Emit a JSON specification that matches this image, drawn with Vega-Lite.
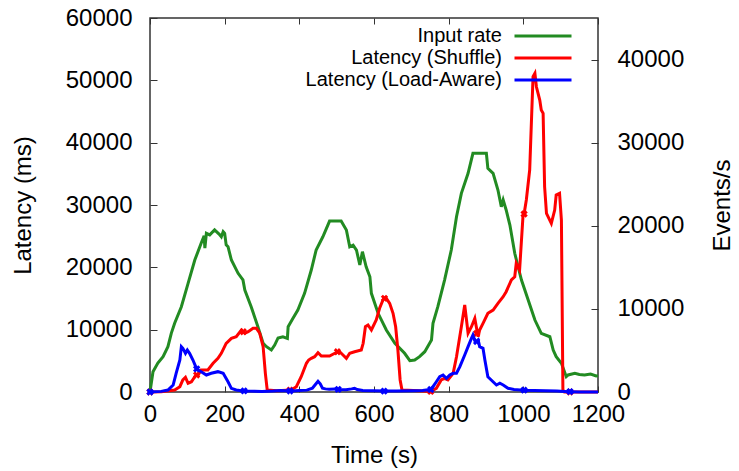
{
  "$schema": "https://vega.github.io/schema/vega-lite/v6.json",
  "width": 448,
  "height": 374,
  "autosize": {"type": "none"},
  "padding": {"left": 150, "top": 18, "right": 141, "bottom": 79},
  "background": "white",
  "config": {
    "font": "Liberation Sans",
    "view": {"stroke": "#333", "strokeWidth": 1.5},
    "axis": {
      "grid": false, "domain": false, "tickColor": "#333", "tickWidth": 1, "tickSize": -7,
      "labelFontSize": 24, "labelColor": "#000", "labelFont": "Liberation Sans",
      "titleFontSize": 24, "titleFontWeight": "normal", "titleColor": "#000", "titleFont": "Liberation Sans",
      "labelFlush": false, "labelOverlap": false, "format": "d"
    }
  },
  "datasets": {
    "rate": [
      {"s":"Input rate","t":0,"v":0},{"s":"Input rate","t":8,"v":2440},{"s":"Input rate","t":21,"v":3490},{"s":"Input rate","t":35,"v":4250},
      {"s":"Input rate","t":48,"v":5450},{"s":"Input rate","t":57,"v":7060},{"s":"Input rate","t":66,"v":8270},{"s":"Input rate","t":84,"v":10260},
      {"s":"Input rate","t":102,"v":13080},{"s":"Input rate","t":120,"v":15880},{"s":"Input rate","t":137,"v":17890},{"s":"Input rate","t":145,"v":18800},
      {"s":"Input rate","t":147,"v":17300},{"s":"Input rate","t":151,"v":19090},{"s":"Input rate","t":160,"v":18900},{"s":"Input rate","t":173,"v":19500},
      {"s":"Input rate","t":185,"v":19000},{"s":"Input rate","t":191,"v":18680},{"s":"Input rate","t":196,"v":19300},{"s":"Input rate","t":200,"v":19090},
      {"s":"Input rate","t":204,"v":17700},{"s":"Input rate","t":209,"v":17480},{"s":"Input rate","t":218,"v":15880},{"s":"Input rate","t":236,"v":14280},
      {"s":"Input rate","t":249,"v":13480},{"s":"Input rate","t":254,"v":12270},{"s":"Input rate","t":271,"v":10260},{"s":"Input rate","t":289,"v":7860},
      {"s":"Input rate","t":303,"v":5860},{"s":"Input rate","t":312,"v":5450},{"s":"Input rate","t":325,"v":5050},{"s":"Input rate","t":334,"v":5650},
      {"s":"Input rate","t":343,"v":6500},{"s":"Input rate","t":356,"v":6650},{"s":"Input rate","t":368,"v":6460},{"s":"Input rate","t":370,"v":7860},
      {"s":"Input rate","t":383,"v":8870},{"s":"Input rate","t":396,"v":9870},{"s":"Input rate","t":414,"v":11870},{"s":"Input rate","t":432,"v":14680},
      {"s":"Input rate","t":445,"v":17080},{"s":"Input rate","t":463,"v":18680},{"s":"Input rate","t":481,"v":20570},{"s":"Input rate","t":512,"v":20570},
      {"s":"Input rate","t":526,"v":19490},{"s":"Input rate","t":535,"v":17480},{"s":"Input rate","t":544,"v":17680},{"s":"Input rate","t":553,"v":17080},
      {"s":"Input rate","t":562,"v":15280},{"s":"Input rate","t":569,"v":16880},{"s":"Input rate","t":579,"v":15070},{"s":"Input rate","t":589,"v":13870},
      {"s":"Input rate","t":593,"v":11870},{"s":"Input rate","t":611,"v":9470},{"s":"Input rate","t":633,"v":7460},{"s":"Input rate","t":656,"v":5860},
      {"s":"Input rate","t":682,"v":4660},{"s":"Input rate","t":696,"v":3770},{"s":"Input rate","t":709,"v":3850},{"s":"Input rate","t":722,"v":4250},
      {"s":"Input rate","t":736,"v":4850},{"s":"Input rate","t":749,"v":5860},{"s":"Input rate","t":754,"v":6260},{"s":"Input rate","t":758,"v":8270},
      {"s":"Input rate","t":771,"v":10260},{"s":"Input rate","t":789,"v":13470},{"s":"Input rate","t":807,"v":17080},{"s":"Input rate","t":821,"v":21090},
      {"s":"Input rate","t":834,"v":23900},{"s":"Input rate","t":852,"v":26310},{"s":"Input rate","t":865,"v":28720},{"s":"Input rate","t":901,"v":28720},
      {"s":"Input rate","t":905,"v":26910},{"s":"Input rate","t":919,"v":26310},{"s":"Input rate","t":932,"v":24300},{"s":"Input rate","t":941,"v":22290},
      {"s":"Input rate","t":946,"v":23100},{"s":"Input rate","t":954,"v":21900},{"s":"Input rate","t":964,"v":20090},{"s":"Input rate","t":977,"v":16690},
      {"s":"Input rate","t":986,"v":15070},{"s":"Input rate","t":995,"v":13470},{"s":"Input rate","t":1013,"v":11070},{"s":"Input rate","t":1031,"v":8660},
      {"s":"Input rate","t":1048,"v":7060},{"s":"Input rate","t":1071,"v":6650},{"s":"Input rate","t":1080,"v":5050},{"s":"Input rate","t":1088,"v":4250},
      {"s":"Input rate","t":1102,"v":3450},{"s":"Input rate","t":1115,"v":1840},{"s":"Input rate","t":1120,"v":2050},{"s":"Input rate","t":1138,"v":2250},
      {"s":"Input rate","t":1150,"v":2100},{"s":"Input rate","t":1164,"v":2050},{"s":"Input rate","t":1180,"v":2150},{"s":"Input rate","t":1195,"v":1930},
      {"s":"Input rate","t":1200,"v":1950}
    ],
    "shuffle": [
      {"s":"Latency (Shuffle)","t":0,"v":0},{"s":"Latency (Shuffle)","t":30,"v":50},{"s":"Latency (Shuffle)","t":66,"v":320},{"s":"Latency (Shuffle)","t":80,"v":850},
      {"s":"Latency (Shuffle)","t":88,"v":1930},{"s":"Latency (Shuffle)","t":95,"v":2360},{"s":"Latency (Shuffle)","t":102,"v":1400},{"s":"Latency (Shuffle)","t":111,"v":1650},
      {"s":"Latency (Shuffle)","t":120,"v":2450},{"s":"Latency (Shuffle)","t":125,"v":2730},{"s":"Latency (Shuffle)","t":129,"v":2730},{"s":"Latency (Shuffle)","t":137,"v":3530},
      {"s":"Latency (Shuffle)","t":155,"v":3530},{"s":"Latency (Shuffle)","t":169,"v":4600},{"s":"Latency (Shuffle)","t":182,"v":5400},{"s":"Latency (Shuffle)","t":191,"v":6210},
      {"s":"Latency (Shuffle)","t":204,"v":7810},{"s":"Latency (Shuffle)","t":218,"v":8610},{"s":"Latency (Shuffle)","t":231,"v":8870},{"s":"Latency (Shuffle)","t":245,"v":9950},
      {"s":"Latency (Shuffle)","t":250,"v":9670},{"s":"Latency (Shuffle)","t":254,"v":9420},{"s":"Latency (Shuffle)","t":263,"v":9670},{"s":"Latency (Shuffle)","t":276,"v":10220},
      {"s":"Latency (Shuffle)","t":285,"v":10220},{"s":"Latency (Shuffle)","t":294,"v":9420},{"s":"Latency (Shuffle)","t":303,"v":7270},{"s":"Latency (Shuffle)","t":309,"v":3000},
      {"s":"Latency (Shuffle)","t":314,"v":320},{"s":"Latency (Shuffle)","t":340,"v":200},{"s":"Latency (Shuffle)","t":378,"v":320},{"s":"Latency (Shuffle)","t":392,"v":850},
      {"s":"Latency (Shuffle)","t":405,"v":2450},{"s":"Latency (Shuffle)","t":419,"v":4600},{"s":"Latency (Shuffle)","t":425,"v":5130},{"s":"Latency (Shuffle)","t":432,"v":5400},
      {"s":"Latency (Shuffle)","t":441,"v":5660},{"s":"Latency (Shuffle)","t":450,"v":6300},{"s":"Latency (Shuffle)","t":459,"v":5770},{"s":"Latency (Shuffle)","t":481,"v":5770},
      {"s":"Latency (Shuffle)","t":495,"v":6210},{"s":"Latency (Shuffle)","t":504,"v":6460},{"s":"Latency (Shuffle)","t":508,"v":6460},{"s":"Latency (Shuffle)","t":517,"v":5940},
      {"s":"Latency (Shuffle)","t":526,"v":5400},{"s":"Latency (Shuffle)","t":535,"v":6210},{"s":"Latency (Shuffle)","t":548,"v":6460},{"s":"Latency (Shuffle)","t":566,"v":6740},
      {"s":"Latency (Shuffle)","t":571,"v":7810},{"s":"Latency (Shuffle)","t":577,"v":10470},{"s":"Latency (Shuffle)","t":584,"v":10750},{"s":"Latency (Shuffle)","t":593,"v":9950},
      {"s":"Latency (Shuffle)","t":606,"v":11550},{"s":"Latency (Shuffle)","t":615,"v":13430},{"s":"Latency (Shuffle)","t":624,"v":14760},{"s":"Latency (Shuffle)","t":628,"v":15030},
      {"s":"Latency (Shuffle)","t":633,"v":15030},{"s":"Latency (Shuffle)","t":642,"v":14230},{"s":"Latency (Shuffle)","t":651,"v":12620},{"s":"Latency (Shuffle)","t":658,"v":10470},
      {"s":"Latency (Shuffle)","t":664,"v":6740},{"s":"Latency (Shuffle)","t":670,"v":1930},{"s":"Latency (Shuffle)","t":675,"v":320},{"s":"Latency (Shuffle)","t":720,"v":200},
      {"s":"Latency (Shuffle)","t":752,"v":100},{"s":"Latency (Shuffle)","t":767,"v":590},{"s":"Latency (Shuffle)","t":780,"v":1930},{"s":"Latency (Shuffle)","t":789,"v":2200},
      {"s":"Latency (Shuffle)","t":798,"v":1930},{"s":"Latency (Shuffle)","t":812,"v":3000},{"s":"Latency (Shuffle)","t":821,"v":5660},{"s":"Latency (Shuffle)","t":834,"v":10470},
      {"s":"Latency (Shuffle)","t":843,"v":13960},{"s":"Latency (Shuffle)","t":852,"v":9420},{"s":"Latency (Shuffle)","t":861,"v":10470},{"s":"Latency (Shuffle)","t":870,"v":11820},
      {"s":"Latency (Shuffle)","t":874,"v":10470},{"s":"Latency (Shuffle)","t":879,"v":8870},{"s":"Latency (Shuffle)","t":883,"v":9950},{"s":"Latency (Shuffle)","t":892,"v":11020},
      {"s":"Latency (Shuffle)","t":905,"v":12620},{"s":"Latency (Shuffle)","t":919,"v":13150},{"s":"Latency (Shuffle)","t":932,"v":14230},{"s":"Latency (Shuffle)","t":946,"v":15290},
      {"s":"Latency (Shuffle)","t":954,"v":16090},{"s":"Latency (Shuffle)","t":968,"v":17970},{"s":"Latency (Shuffle)","t":977,"v":18490},{"s":"Latency (Shuffle)","t":981,"v":20640},
      {"s":"Latency (Shuffle)","t":990,"v":19570},{"s":"Latency (Shuffle)","t":999,"v":28120},{"s":"Latency (Shuffle)","t":1002,"v":28550},{"s":"Latency (Shuffle)","t":1008,"v":30800},
      {"s":"Latency (Shuffle)","t":1017,"v":35610},{"s":"Latency (Shuffle)","t":1026,"v":50570},{"s":"Latency (Shuffle)","t":1031,"v":51120},{"s":"Latency (Shuffle)","t":1035,"v":48970},
      {"s":"Latency (Shuffle)","t":1044,"v":46840},{"s":"Latency (Shuffle)","t":1048,"v":45230},{"s":"Latency (Shuffle)","t":1053,"v":44700},{"s":"Latency (Shuffle)","t":1057,"v":32930},
      {"s":"Latency (Shuffle)","t":1062,"v":28660},{"s":"Latency (Shuffle)","t":1075,"v":27060},{"s":"Latency (Shuffle)","t":1084,"v":29190},{"s":"Latency (Shuffle)","t":1088,"v":31600},
      {"s":"Latency (Shuffle)","t":1097,"v":31870},{"s":"Latency (Shuffle)","t":1102,"v":27590},{"s":"Latency (Shuffle)","t":1106,"v":320},{"s":"Latency (Shuffle)","t":1110,"v":0},
      {"s":"Latency (Shuffle)","t":1200,"v":0}
    ],
    "aware": [
      {"s":"Latency (Load-Aware)","t":0,"v":0},{"s":"Latency (Load-Aware)","t":30,"v":100},{"s":"Latency (Load-Aware)","t":48,"v":320},{"s":"Latency (Load-Aware)","t":62,"v":1120},
      {"s":"Latency (Load-Aware)","t":70,"v":3000},{"s":"Latency (Load-Aware)","t":80,"v":5130},{"s":"Latency (Load-Aware)","t":84,"v":7270},{"s":"Latency (Load-Aware)","t":88,"v":7010},
      {"s":"Latency (Load-Aware)","t":95,"v":6210},{"s":"Latency (Load-Aware)","t":100,"v":6740},{"s":"Latency (Load-Aware)","t":106,"v":6210},{"s":"Latency (Load-Aware)","t":115,"v":5130},
      {"s":"Latency (Load-Aware)","t":125,"v":3700},{"s":"Latency (Load-Aware)","t":137,"v":3260},{"s":"Latency (Load-Aware)","t":151,"v":2730},{"s":"Latency (Load-Aware)","t":164,"v":3000},
      {"s":"Latency (Load-Aware)","t":182,"v":3260},{"s":"Latency (Load-Aware)","t":196,"v":3000},{"s":"Latency (Load-Aware)","t":209,"v":1650},{"s":"Latency (Load-Aware)","t":218,"v":590},
      {"s":"Latency (Load-Aware)","t":231,"v":320},{"s":"Latency (Load-Aware)","t":245,"v":200},{"s":"Latency (Load-Aware)","t":260,"v":150},{"s":"Latency (Load-Aware)","t":280,"v":120},
      {"s":"Latency (Load-Aware)","t":300,"v":100},{"s":"Latency (Load-Aware)","t":330,"v":150},{"s":"Latency (Load-Aware)","t":350,"v":250},{"s":"Latency (Load-Aware)","t":365,"v":200},
      {"s":"Latency (Load-Aware)","t":380,"v":150},{"s":"Latency (Load-Aware)","t":400,"v":250},{"s":"Latency (Load-Aware)","t":420,"v":300},{"s":"Latency (Load-Aware)","t":435,"v":600},
      {"s":"Latency (Load-Aware)","t":443,"v":1200},{"s":"Latency (Load-Aware)","t":450,"v":1720},{"s":"Latency (Load-Aware)","t":456,"v":1300},{"s":"Latency (Load-Aware)","t":462,"v":600},
      {"s":"Latency (Load-Aware)","t":470,"v":500},{"s":"Latency (Load-Aware)","t":480,"v":450},{"s":"Latency (Load-Aware)","t":495,"v":500},{"s":"Latency (Load-Aware)","t":510,"v":400},
      {"s":"Latency (Load-Aware)","t":525,"v":350},{"s":"Latency (Load-Aware)","t":540,"v":500},{"s":"Latency (Load-Aware)","t":548,"v":600},{"s":"Latency (Load-Aware)","t":555,"v":400},
      {"s":"Latency (Load-Aware)","t":570,"v":250},{"s":"Latency (Load-Aware)","t":600,"v":200},{"s":"Latency (Load-Aware)","t":630,"v":150},{"s":"Latency (Load-Aware)","t":660,"v":150},
      {"s":"Latency (Load-Aware)","t":700,"v":200},{"s":"Latency (Load-Aware)","t":730,"v":250},{"s":"Latency (Load-Aware)","t":750,"v":400},{"s":"Latency (Load-Aware)","t":758,"v":850},
      {"s":"Latency (Load-Aware)","t":767,"v":1650},{"s":"Latency (Load-Aware)","t":776,"v":2450},{"s":"Latency (Load-Aware)","t":785,"v":2730},{"s":"Latency (Load-Aware)","t":794,"v":2200},
      {"s":"Latency (Load-Aware)","t":803,"v":2730},{"s":"Latency (Load-Aware)","t":812,"v":3000},{"s":"Latency (Load-Aware)","t":821,"v":3000},{"s":"Latency (Load-Aware)","t":830,"v":4060},
      {"s":"Latency (Load-Aware)","t":843,"v":5940},{"s":"Latency (Load-Aware)","t":852,"v":7270},{"s":"Latency (Load-Aware)","t":861,"v":8610},{"s":"Latency (Load-Aware)","t":865,"v":9140},
      {"s":"Latency (Load-Aware)","t":871,"v":8070},{"s":"Latency (Load-Aware)","t":875,"v":8100},{"s":"Latency (Load-Aware)","t":879,"v":8340},{"s":"Latency (Load-Aware)","t":883,"v":7270},
      {"s":"Latency (Load-Aware)","t":892,"v":7010},{"s":"Latency (Load-Aware)","t":897,"v":5130},{"s":"Latency (Load-Aware)","t":905,"v":2450},{"s":"Latency (Load-Aware)","t":914,"v":1930},
      {"s":"Latency (Load-Aware)","t":928,"v":1120},{"s":"Latency (Load-Aware)","t":937,"v":1400},{"s":"Latency (Load-Aware)","t":946,"v":1120},{"s":"Latency (Load-Aware)","t":959,"v":590},
      {"s":"Latency (Load-Aware)","t":975,"v":400},{"s":"Latency (Load-Aware)","t":1000,"v":300},{"s":"Latency (Load-Aware)","t":1030,"v":250},{"s":"Latency (Load-Aware)","t":1060,"v":200},
      {"s":"Latency (Load-Aware)","t":1090,"v":150},{"s":"Latency (Load-Aware)","t":1110,"v":100},{"s":"Latency (Load-Aware)","t":1125,"v":50},{"s":"Latency (Load-Aware)","t":1150,"v":0},
      {"s":"Latency (Load-Aware)","t":1200,"v":0}
    ],
    "marks_shuffle": [
      {"s":"Latency (Shuffle)","t":0,"v":0},{"s":"Latency (Shuffle)","t":125,"v":2730},{"s":"Latency (Shuffle)","t":250,"v":9670},
      {"s":"Latency (Shuffle)","t":375,"v":300},{"s":"Latency (Shuffle)","t":502,"v":6460},{"s":"Latency (Shuffle)","t":628,"v":15030},
      {"s":"Latency (Shuffle)","t":752,"v":100},{"s":"Latency (Shuffle)","t":875,"v":9400},{"s":"Latency (Shuffle)","t":1002,"v":28550},
      {"s":"Latency (Shuffle)","t":1125,"v":0}
    ],
    "marks_aware": [
      {"s":"Latency (Load-Aware)","t":0,"v":0},{"s":"Latency (Load-Aware)","t":125,"v":3700},{"s":"Latency (Load-Aware)","t":252,"v":180},
      {"s":"Latency (Load-Aware)","t":375,"v":160},{"s":"Latency (Load-Aware)","t":504,"v":420},{"s":"Latency (Load-Aware)","t":627,"v":150},
      {"s":"Latency (Load-Aware)","t":752,"v":400},{"s":"Latency (Load-Aware)","t":875,"v":8100},{"s":"Latency (Load-Aware)","t":1002,"v":300},
      {"s":"Latency (Load-Aware)","t":1125,"v":50}
    ]
  },
  "layer": [
    {
      "data": {"name": "rate"},
      "mark": {"type": "line", "strokeWidth": 3},
      "encoding": {
        "x": {"field": "t", "type": "quantitative", "scale": {"domain": [0, 1200], "nice": false},
              "axis": {"orient": "top", "labels": false, "title": null, "values": [0,200,400,600,800,1000,1200], "tickSize": -6}},
        "y": {"field": "v", "type": "quantitative", "scale": {"domain": [0, 45000], "nice": false},
              "axis": {"orient": "right", "title": "Events/s", "values": [0,10000,20000,30000,40000],
                       "labelPadding": 26, "titlePadding": 27, "titleAngle": -90, "titleBaseline": "top"}},
        "color": {"field": "s", "type": "nominal",
                  "scale": {"domain": ["Input rate", "Latency (Shuffle)", "Latency (Load-Aware)"], "range": ["#228b22", "#ff0000", "#0000ff"]},
                  "legend": {"orient": "none", "legendX": 381.5, "legendY": 6.5, "title": null, "symbolType": "M-2.85,0H2.85",
                             "symbolSize": 400, "symbolStrokeWidth": 3, "symbolFillColor": "transparent", "labelFontSize": 20, "labelColor": "#000",
                             "labelAlign": "right", "labelOffset": -52.5, "rowPadding": -3, "padding": 0, "labelLimit": 0}}
      }
    },
    {
      "encoding": {
        "x": {"field": "t", "type": "quantitative", "scale": {"domain": [0, 1200], "nice": false},
              "axis": {"orient": "bottom", "title": "Time (s)", "values": [0,200,400,600,800,1000,1200], "tickSize": -6,
                       "labelPadding": 16, "titlePadding": 17}},
        "y": {"field": "v", "type": "quantitative", "scale": {"domain": [0, 60000], "nice": false},
              "axis": {"orient": "left", "title": "Latency (ms)", "values": [0,10000,20000,30000,40000,50000,60000],
                       "labelPadding": 25, "titlePadding": 30}}
      },
      "layer": [
        {"data": {"name": "shuffle"}, "mark": {"type": "line", "strokeWidth": 3},
         "encoding": {"color": {"field": "s", "type": "nominal"}}},
        {"data": {"name": "marks_shuffle"}, "mark": {"type": "point", "shape": "cross", "angle": 45, "size": 55, "filled": true, "opacity": 1},
         "encoding": {"fill": {"field": "s", "type": "nominal", "scale": {"domain": ["Latency (Shuffle)", "Latency (Load-Aware)"], "range": ["#ff0000", "#0000ff"]}, "legend": null}}},
        {"data": {"name": "aware"}, "mark": {"type": "line", "strokeWidth": 3},
         "encoding": {"color": {"field": "s", "type": "nominal"}}},
        {"data": {"name": "marks_aware"}, "mark": {"type": "point", "shape": "cross", "angle": 45, "size": 55, "filled": true, "opacity": 1},
         "encoding": {"fill": {"field": "s", "type": "nominal", "scale": {"domain": ["Latency (Shuffle)", "Latency (Load-Aware)"], "range": ["#ff0000", "#0000ff"]}, "legend": null}}}
      ]
    }
  ],
  "resolve": {"scale": {"x": "independent", "y": "independent"}}
}
